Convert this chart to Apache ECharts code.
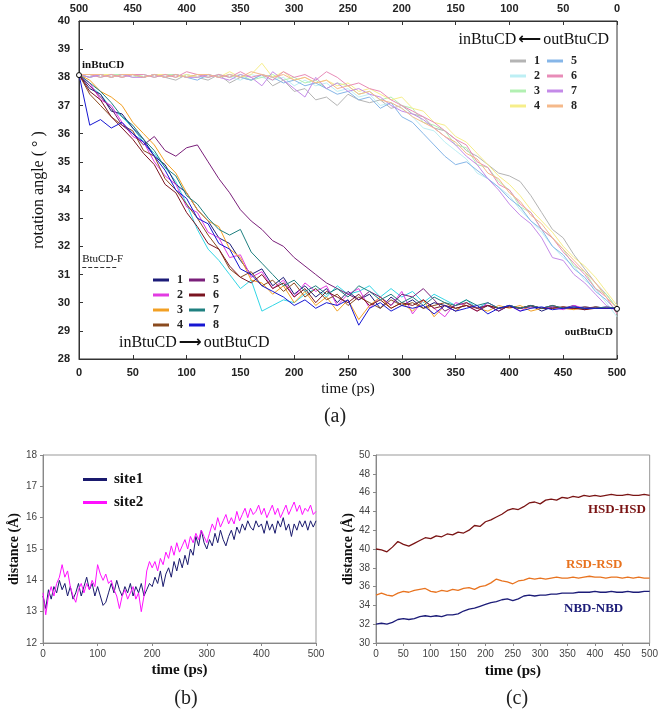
<!DOCTYPE html>
<html><head><meta charset="utf-8">
<script src="https://cdn.jsdelivr.net/npm/echarts@6/dist/echarts.min.js"></script>
<style>html,body{margin:0;padding:0;background:#fff}#c{width:661px;height:711px}</style>
</head><body><div id="c"></div>
<script>
// ---------- Panel (a): time grids (ps) ----------
const timeA = [0,10,20,30,40,50,60,70,80,90,100,110,120,130,140,150,160,170,180,190,200,210,220,230,240,250,260,270,280,290,300,310,320,330,340,350,360,370,380,390,400,410,420,430,440,450,460,470,480,490,500];

// inBtuCD -> outBtuCD trajectories (bottom axis time)
const in1 = [38.1,37.6,37.4,36.8,36.7,36.2,35.8,35.2,34.9,34.2,33.9,33.3,32.9,32.3,32.1,31.5,31.0,31.2,30.6,30.9,30.3,30.6,30.2,30.5,30.0,30.4,30.1,30.3,29.8,30.2,29.9,30.1,29.8,30.0,29.9,29.7,30.0,29.8,29.9,29.7,29.9,29.8,29.9,29.7,29.85,29.8,29.9,29.75,29.85,29.8,29.8];
const in2 = [38.1,37.8,37.2,37.0,36.4,35.9,35.7,35.0,34.5,34.2,33.4,33.2,32.5,32.3,31.6,31.7,30.9,31.1,30.5,30.8,30.2,30.7,30.4,30.6,29.9,30.3,30.5,29.8,30.2,29.9,30.4,29.6,30.1,29.8,29.5,30.0,29.9,29.7,30.0,29.8,29.9,29.7,29.9,29.8,29.85,29.75,29.9,29.8,29.8,29.85,29.8];
const in3 = [38.1,37.9,37.5,37.3,37.0,36.4,36.0,35.6,35.0,34.6,33.9,33.3,32.9,32.7,31.9,31.6,30.8,30.7,30.3,30.6,30.0,30.4,29.9,30.2,29.7,30.1,29.4,29.9,30.2,29.8,30.0,29.7,30.1,29.5,29.9,29.7,30.0,29.8,29.7,29.9,29.8,29.9,29.7,29.8,29.9,29.8,29.75,29.85,29.8,29.8,29.8];
const in4 = [38.1,37.4,37.0,36.6,36.3,36.1,35.4,35.2,34.4,34.0,33.5,33.0,32.4,31.9,31.2,30.9,31.1,30.6,30.8,30.4,30.7,30.2,30.5,30.1,30.3,29.9,30.2,30.0,29.8,30.1,29.9,30.0,29.8,29.9,30.0,29.8,29.9,29.8,29.9,29.8,29.85,29.8,29.9,29.8,29.8,29.85,29.8,29.8,29.85,29.8,29.8];
const in5 = [38.1,37.7,37.3,36.9,36.3,36.0,35.6,35.9,35.4,35.2,35.5,35.6,35.0,34.4,33.9,33.3,32.9,32.6,32.2,32.0,31.6,31.3,31.0,30.7,30.5,30.3,30.1,30.4,30.2,29.9,30.3,30.2,30.5,30.1,29.7,29.9,30.0,29.8,29.9,29.7,29.9,29.8,29.85,29.8,29.9,29.8,29.8,29.85,29.8,29.8,29.8];
const in6 = [38.1,37.5,37.2,36.6,36.2,35.8,35.3,34.9,34.2,33.9,33.2,32.7,32.1,31.9,31.3,30.9,30.7,31.0,30.5,30.7,30.2,30.5,30.0,30.4,30.2,30.0,30.3,29.9,30.1,29.8,30.0,29.9,30.1,29.8,29.9,29.8,29.9,29.7,29.9,29.8,29.85,29.8,29.9,29.8,29.8,29.85,29.8,29.75,29.8,29.8,29.8];
const in7 = [38.1,37.8,37.5,37.1,36.6,36.3,35.8,35.4,34.8,34.5,33.8,33.5,33.0,32.6,32.4,32.6,31.8,31.4,31.0,30.6,30.8,30.4,30.6,30.3,30.5,30.2,30.6,30.4,30.1,30.3,30.0,30.2,29.9,30.2,30.0,29.9,30.1,29.9,30.0,29.8,29.9,29.8,29.9,29.8,29.9,29.8,29.85,29.8,29.8,29.85,29.8];
const in8 = [38.1,36.3,36.5,36.2,36.4,36.0,35.7,35.2,34.7,34.0,33.7,33.0,32.8,32.1,31.9,31.2,31.0,30.6,30.4,30.2,29.9,30.1,29.8,30.0,29.9,30.1,29.2,29.8,30.0,29.7,29.9,29.8,29.9,29.6,29.9,29.7,29.8,29.9,29.6,29.8,29.9,29.7,29.8,29.85,29.75,29.8,29.85,29.8,29.8,29.8,29.8];
const inCyan = [38.1,37.7,37.4,36.9,36.6,36.2,35.7,35.3,34.8,34.3,33.5,32.6,31.9,31.5,31.0,30.5,30.8,29.7,29.9,30.1,30.0,30.3,30.5,30.2,30.6,30.3,30.4,30.6,30.2,30.5,30.2,30.4,30.0,30.3,30.1,29.9,30.1,29.8,30.0,29.8,29.9,29.8,29.9,29.8,29.85,29.8,29.8,29.85,29.8,29.8,29.8];

// outBtuCD -> inBtuCD trajectories (top, reversed axis time)
const out1 = [29.8,30.3,30.7,31.2,31.7,32.3,32.6,33.2,33.8,34.3,34.5,34.6,34.9,35.2,35.4,35.8,36.1,36.2,36.6,36.7,37.0,36.9,37.2,37.1,37.2,37.4,37.0,37.3,37.2,37.6,37.5,37.9,37.7,38.1,37.9,38.0,37.8,38.1,37.9,38.0,38.1,37.9,38.0,38.1,38.0,38.1,38.0,38.1,38.1,38.0,38.1];
const out2 = [29.5,30.0,30.5,30.8,31.3,31.6,32.0,32.5,32.9,33.3,33.8,34.1,34.4,34.6,35.1,35.4,35.7,36.1,36.2,36.6,36.9,37.1,37.0,37.4,37.3,37.6,37.5,37.8,37.7,37.9,37.7,38.0,37.9,38.0,38.1,37.9,38.0,38.1,38.0,38.0,38.1,38.0,38.1,38.0,38.1,38.1,38.0,38.1,38.0,38.1,38.1];
const out3 = [29.8,30.3,30.5,31.1,31.3,31.9,32.3,32.6,33.2,33.4,34.0,34.3,34.8,34.9,35.5,35.6,36.1,36.3,36.4,36.9,37.0,37.3,37.2,37.5,37.4,37.7,37.8,37.6,37.9,37.8,38.0,37.9,38.1,38.0,37.9,38.1,38.0,38.1,38.0,38.1,38.0,38.1,38.1,38.0,38.1,38.0,38.1,38.1,38.0,38.1,38.1];
const out4 = [29.9,30.4,30.9,31.3,31.6,32.0,32.5,32.9,33.3,33.8,34.2,34.5,34.9,35.3,35.7,35.9,36.3,36.4,36.8,36.9,37.3,37.2,37.4,37.6,37.5,37.8,37.7,37.9,37.8,38.0,37.9,38.2,38.0,38.5,38.1,38.0,38.2,38.0,38.1,38.0,38.1,38.0,38.1,38.1,38.0,38.1,38.0,38.1,38.1,38.0,38.1];
const out5 = [29.7,30.1,30.4,30.9,31.2,31.7,32.0,32.6,32.9,33.4,33.7,34.1,34.4,34.7,35.0,34.9,35.2,35.6,36.0,36.4,36.6,37.1,36.9,37.3,37.2,37.5,37.4,37.6,37.8,37.7,37.9,37.8,38.0,38.1,37.9,38.0,38.1,38.0,38.1,37.9,38.0,38.1,38.0,38.1,38.0,38.1,38.1,38.0,38.1,38.0,38.1];
const out6 = [29.6,30.2,30.5,31.0,31.4,31.8,32.3,32.6,33.2,33.5,34.0,34.2,34.8,35.0,35.6,35.8,36.1,36.4,36.6,36.8,37.0,37.2,37.5,37.6,37.8,37.7,38.0,38.2,37.9,38.1,38.0,38.2,37.9,38.1,38.0,38.2,38.0,38.1,38.0,38.1,38.2,38.0,38.1,38.0,38.1,38.1,38.0,38.1,38.0,38.1,38.1];
const out7 = [29.7,29.9,30.3,30.7,31.0,31.5,31.6,32.3,32.8,33.1,33.5,34.0,34.4,34.9,35.2,35.6,35.9,36.2,36.5,36.7,36.8,37.0,37.3,37.4,37.6,37.5,37.8,37.6,38.0,37.3,37.6,37.9,38.2,37.7,38.0,38.1,37.9,38.0,38.1,38.0,38.0,38.1,38.0,38.1,38.0,38.0,38.1,38.0,38.1,38.0,38.1];
const out8 = [29.8,30.2,30.7,31.1,31.5,31.9,32.3,32.8,33.1,33.6,33.9,34.4,34.6,35.1,35.3,35.7,35.9,36.2,36.4,36.6,36.9,37.1,37.2,37.5,37.4,37.7,37.6,37.9,37.8,38.0,37.9,38.1,38.0,38.1,38.2,38.0,38.1,38.0,38.1,38.1,38.0,38.1,38.0,38.1,38.0,38.1,38.1,38.0,38.1,38.1,38.1];

// ---------- Panel (b) ----------
const timeB = [0,5,10,15,20,25,30,35,40,45,50,55,60,65,70,75,80,85,90,95,100,105,110,115,120,125,130,135,140,145,150,155,160,165,170,175,180,185,190,195,200,205,210,215,220,225,230,235,240,245,250,255,260,265,270,275,280,285,290,295,300,305,310,315,320,325,330,335,340,345,350,355,360,365,370,375,380,385,390,395,400,405,410,415,420,425,430,435,440,445,450,455,460,465,470,475,480,485,490,495,500];
const site1 = [13.5,13.1,13.7,13.4,13.8,13.6,14.0,13.7,13.9,13.5,13.8,13.4,13.6,13.9,13.5,13.8,14.1,13.7,13.9,13.5,13.8,13.5,13.2,13.3,13.6,13.9,13.6,14.0,13.7,13.5,13.8,13.6,13.9,13.5,13.8,13.6,13.9,13.5,13.7,13.9,13.8,14.1,13.9,14.3,13.8,14.2,14.4,14.1,14.6,14.3,14.7,14.4,14.8,14.5,15.0,14.8,15.4,15.1,15.6,15.2,15.0,15.3,15.1,15.5,15.2,15.6,15.3,15.1,15.4,15.6,15.3,15.7,15.5,15.8,15.6,15.9,15.7,15.6,15.9,15.7,15.8,15.5,15.9,15.6,15.8,15.5,15.9,15.7,16.0,15.6,15.8,15.4,15.8,15.6,15.9,15.7,15.9,15.6,15.9,15.7,15.9];
const site2 = [13.6,12.9,13.5,13.8,13.5,13.9,14.1,14.5,14.1,14.3,13.8,13.5,13.3,13.7,13.9,13.6,13.9,13.7,14.0,13.8,14.5,14.2,14.0,14.2,13.9,14.0,13.7,13.5,13.1,13.5,13.7,13.4,13.6,13.8,13.4,13.6,13.0,13.5,14.3,14.6,14.4,14.6,14.3,14.7,14.5,14.9,14.7,15.1,14.8,15.2,14.9,15.1,15.3,15.0,15.4,15.2,15.5,15.3,15.6,15.4,15.2,15.5,15.8,15.6,16.0,15.7,15.9,16.1,15.8,16.0,15.8,16.2,15.9,16.1,16.3,16.0,16.3,16.1,16.2,16.4,16.1,16.3,16.0,16.2,16.4,16.1,16.3,16.0,16.2,16.4,16.1,16.3,16.5,16.2,16.4,16.1,16.3,16.2,16.4,16.1,16.2];

// ---------- Panel (c) ----------
const timeC = timeA;
const hsd = [40.0,39.9,39.7,40.2,40.8,40.5,40.3,40.6,40.9,41.2,41.1,41.4,41.3,41.6,41.5,41.8,41.7,42.0,42.5,42.4,42.9,43.1,43.4,43.7,44.1,44.3,44.2,44.5,44.9,45.0,44.8,45.2,45.3,45.2,45.5,45.4,45.6,45.5,45.7,45.6,45.7,45.6,45.7,45.8,45.7,45.7,45.8,45.7,45.7,45.8,45.7];
const rsd = [35.1,35.3,35.1,35.0,35.3,35.5,35.4,35.6,35.7,35.8,35.5,35.4,35.6,35.5,35.7,35.6,35.8,35.9,35.7,36.0,36.1,36.4,36.8,36.6,36.5,36.3,36.6,36.7,36.9,36.8,36.9,36.8,36.9,37.0,36.9,36.9,37.0,36.9,37.0,37.1,37.0,37.0,36.9,37.0,37.0,36.9,37.0,36.9,37.0,36.9,36.9];
const nbd = [32.0,32.1,32.0,32.2,32.5,32.6,32.5,32.6,32.8,32.9,32.8,32.9,32.8,33.0,33.0,33.1,33.4,33.6,33.7,33.9,34.1,34.3,34.4,34.6,34.7,34.5,34.7,35.0,35.1,35.0,35.1,35.1,35.2,35.2,35.3,35.3,35.3,35.4,35.4,35.4,35.5,35.4,35.4,35.5,35.4,35.4,35.5,35.4,35.4,35.5,35.5];

const inColors = ['#1c1c78','#e23be2','#f2a024','#8a4a1e','#7a1f7a','#7a1420','#1f8080','#1616d2'];
const outColors = ['#b4b4b4','#bdeff4','#b2f0b2','#f6ee8a','#86b6e8','#e88cb8','#c48ae8','#f5b98a'];

const pair = (xs, ys) => xs.map((x, i) => [x, ys[i]]);
const inData = [in1,in2,in3,in4,in5,in6,in7,in8];
const outData = [out1,out2,out3,out4,out5,out6,out7,out8];

const axTxt = {fontFamily:'Liberation Sans', fontWeight:'bold', fontSize:11, color:'#222'};
const smallTxt = {fontFamily:'Liberation Sans', fontSize:10, color:'#444'};

const series = [];
outData.forEach((d, i) => series.push({
  name:'a'+(i+1), type:'line', xAxisIndex:1, yAxisIndex:0, data:pair(timeA, d),
  showSymbol:false, lineStyle:{width:1, color:outColors[i]}, itemStyle:{color:outColors[i]}, z:2
}));
series.push({name:'cy', type:'line', xAxisIndex:0, yAxisIndex:0, data:pair(timeA, inCyan),
  showSymbol:false, lineStyle:{width:1, color:'#33d6e6'}, itemStyle:{color:'#33d6e6'}, z:3});
inData.forEach((d, i) => series.push({
  name:'b'+(i+1), type:'line', xAxisIndex:0, yAxisIndex:0, data:pair(timeA, d),
  showSymbol:false, lineStyle:{width:1, color:inColors[i]}, itemStyle:{color:inColors[i]}, z:4
}));
// markers on first in-series
series[9].markPoint = {
  symbol:'circle', symbolSize:5, silent:true,
  itemStyle:{color:'#fff', borderColor:'#000', borderWidth:1},
  data:[
    {coord:[0,38.08], label:{show:true, formatter:'inBtuCD', position:'right', offset:[-5,-10], fontFamily:'Liberation Serif', fontWeight:'bold', fontSize:11, color:'#111'}},
    {coord:[500,29.78], label:{show:true, formatter:'outBtuCD', position:'left', offset:[4,23], fontFamily:'Liberation Serif', fontWeight:'bold', fontSize:11, color:'#111'}}
  ]
};
series[9].markLine = {
  symbol:'none', silent:true, lineStyle:{type:'dashed', color:'#333', width:1},
  label:{show:true, position:'insideStartTop', formatter:'BtuCD-F', distance:[0,2], fontFamily:'Liberation Serif', fontSize:11, color:'#111'},
  data:[[{coord:[3,31.27]},{coord:[36,31.27]}]]
};

series.push({name:'site1', type:'line', xAxisIndex:2, yAxisIndex:1, data:pair(timeB, site1), showSymbol:false, lineStyle:{width:1, color:'#1a1a6e'}, itemStyle:{color:'#1a1a6e'}});
series.push({name:'site2', type:'line', xAxisIndex:2, yAxisIndex:1, data:pair(timeB, site2), showSymbol:false, lineStyle:{width:1, color:'#ff10ff'}, itemStyle:{color:'#ff10ff'}});
series.push({name:'HSD-HSD', type:'line', xAxisIndex:3, yAxisIndex:2, data:pair(timeC, hsd), showSymbol:false, lineStyle:{width:1.3, color:'#7a1414'}});
series.push({name:'RSD-RSD', type:'line', xAxisIndex:3, yAxisIndex:2, data:pair(timeC, rsd), showSymbol:false, lineStyle:{width:1.3, color:'#e8731f'}});
series.push({name:'NBD-NBD', type:'line', xAxisIndex:3, yAxisIndex:2, data:pair(timeC, nbd), showSymbol:false, lineStyle:{width:1.3, color:'#1c1c78'}});

const legA = (names, left, top) => ({
  orient:'vertical', left, top, icon:'rect', itemWidth:16, itemHeight:3, itemGap:3, selectedMode:false,
  data:names, formatter:n => n.slice(1),
  textStyle:{fontFamily:'Liberation Serif', fontWeight:'bold', fontSize:12, lineHeight:12, color:'#222', padding:[0,0,0,3]}
});

const arrowRich = {
  t:{fontFamily:'Liberation Serif', fontWeight:'normal', fontSize:16, color:'#111'},
  a:{fontFamily:'DejaVu Sans', fontWeight:'bold', fontSize:16, color:'#111', padding:[0,2,0,2]}
};

const option = {
  animation:false,
  backgroundColor:'#fff',
  title:[
    {text:'(a)', left:330, top:402, textAlign:'center', textStyle:{fontFamily:'Liberation Serif', fontWeight:'normal', fontSize:20, color:'#222'}},
    {text:'(b)', left:181, top:684, textAlign:'center', textStyle:{fontFamily:'Liberation Serif', fontWeight:'normal', fontSize:20, color:'#222'}},
    {text:'(c)', left:512, top:684, textAlign:'center', textStyle:{fontFamily:'Liberation Serif', fontWeight:'normal', fontSize:20, color:'#222'}},
    {text:'{t|inBtuCD}{a|⟵}{t|outBtuCD}', left:604, top:27, textAlign:'right', textStyle:{fontWeight:'normal', rich:arrowRich}},
    {text:'{t|inBtuCD}{a|⟶}{t|outBtuCD}', left:114, top:330, textStyle:{fontWeight:'normal', rich:arrowRich}}
  ],
  grid:[
    {left:79, top:21, width:538, height:338, show:true, borderColor:'#333', borderWidth:1, backgroundColor:'transparent'},
    {left:43, top:455, width:273, height:188, show:true, borderColor:'#999', borderWidth:1, backgroundColor:'transparent'},
    {left:376, top:455, width:276, height:188, show:true, borderColor:'#999', borderWidth:1, backgroundColor:'transparent'}
  ],
  legend:[
    legA(['b1','b2','b3','b4'], 148, 269),
    legA(['b5','b6','b7','b8'], 184, 269),
    legA(['a1','a2','a3','a4'], 505, 50),
    legA(['a5','a6','a7','a8'], 542, 50),
    {orient:'vertical', left:78, top:467, icon:'rect', itemWidth:24, itemHeight:3, itemGap:8, selectedMode:false,
     data:['site1','site2'], textStyle:{fontFamily:'Liberation Serif', fontWeight:'bold', fontSize:15, lineHeight:14, color:'#111', padding:[0,0,0,2]}}
  ],
  xAxis:[
    {gridIndex:0, type:'value', position:'bottom', min:0, max:500, interval:50,
     name:'time (ps)', nameLocation:'middle', nameGap:23, nameTextStyle:{fontFamily:'Liberation Serif', fontSize:15, color:'#111'},
     axisLine:{lineStyle:{color:'#333'}}, axisTick:{inside:true, length:4, lineStyle:{color:'#333'}},
     axisLabel:Object.assign({margin:8}, axTxt), splitLine:{show:false}},
    {gridIndex:0, type:'value', position:'top', inverse:true, min:0, max:500, interval:50,
     axisLine:{lineStyle:{color:'#333'}}, axisTick:{inside:true, length:4, lineStyle:{color:'#333'}},
     axisLabel:Object.assign({margin:7}, axTxt), splitLine:{show:false}},
    {gridIndex:1, type:'value', min:0, max:500, interval:100,
     name:'time (ps)', nameLocation:'middle', nameGap:20, nameTextStyle:{fontFamily:'Liberation Serif', fontWeight:'bold', fontSize:15, color:'#111'},
     axisLine:{lineStyle:{color:'#888'}}, axisTick:{length:3, lineStyle:{color:'#888'}},
     axisLabel:Object.assign({margin:6}, smallTxt), splitLine:{show:false}},
    {gridIndex:2, type:'value', min:0, max:500, interval:50,
     name:'time (ps)', nameLocation:'middle', nameGap:21, nameTextStyle:{fontFamily:'Liberation Serif', fontWeight:'bold', fontSize:15, color:'#111'},
     axisLine:{lineStyle:{color:'#888'}}, axisTick:{length:3, lineStyle:{color:'#888'}},
     axisLabel:Object.assign({margin:6}, smallTxt), splitLine:{show:false}}
  ],
  yAxis:[
    {gridIndex:0, type:'value', min:28, max:40, interval:1,
     name:'rotation angle ( ° )', nameLocation:'middle', nameGap:31, nameTextStyle:{fontFamily:'Liberation Serif', fontSize:16, color:'#111'},
     axisLine:{show:true, lineStyle:{color:'#333'}}, axisTick:{show:true, inside:true, length:4, lineStyle:{color:'#333'}},
     axisLabel:Object.assign({margin:9}, axTxt), splitLine:{show:false}},
    {gridIndex:1, type:'value', min:12, max:18, interval:1,
     name:'distance (Å)', nameLocation:'middle', nameGap:22, nameTextStyle:{fontFamily:'Liberation Serif', fontWeight:'bold', fontSize:14, color:'#111'},
     axisLine:{show:true, lineStyle:{color:'#888'}}, axisTick:{show:true, length:3, lineStyle:{color:'#888'}},
     axisLabel:Object.assign({margin:6}, smallTxt), splitLine:{show:false}},
    {gridIndex:2, type:'value', min:30, max:50, interval:2,
     name:'distance (Å)', nameLocation:'middle', nameGap:20, nameTextStyle:{fontFamily:'Liberation Serif', fontWeight:'bold', fontSize:14, color:'#111'},
     axisLine:{show:true, lineStyle:{color:'#888'}}, axisTick:{show:true, length:3, lineStyle:{color:'#888'}},
     axisLabel:Object.assign({margin:6}, smallTxt), splitLine:{show:false}}
  ],
  graphic:[
    {type:'text', left:588, top:503, style:{text:'HSD-HSD', font:'bold 13px "Liberation Serif"', fill:'#7a1414'}},
    {type:'text', left:566, top:558, style:{text:'RSD-RSD', font:'bold 13px "Liberation Serif"', fill:'#e8731f'}},
    {type:'text', left:564, top:602, style:{text:'NBD-NBD', font:'bold 13px "Liberation Serif"', fill:'#1c1c78'}}
  ],
  series
};
const chart = echarts.init(document.getElementById('c'), null, {renderer:'canvas'});
chart.setOption(option);
</script>
</body></html>
